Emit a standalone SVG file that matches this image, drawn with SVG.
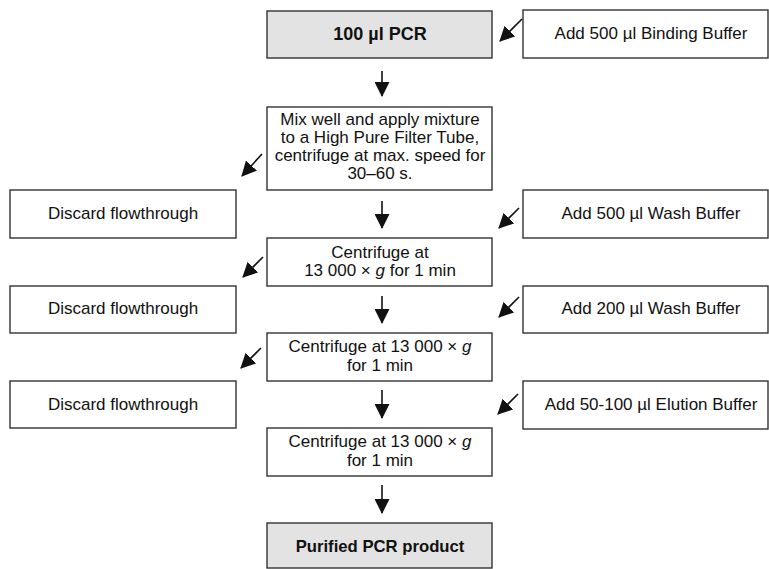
<svg xmlns="http://www.w3.org/2000/svg" width="769" height="569" viewBox="0 0 769 569">
<style>
.box{fill:#fff;stroke:#333;stroke-width:1.4}
.grey{fill:#e3e3e3;stroke:#333;stroke-width:1.4}
text{font-family:"Liberation Sans",Arial,sans-serif;font-size:17px;fill:#111;text-anchor:middle}
.b{font-weight:bold}
.i{font-style:italic}
.c line{stroke:#111;stroke-width:1.6;marker-end:url(#ah)}
</style>
<defs>
<marker id="ah" markerWidth="15" markerHeight="15" refX="14" refY="7.5" orient="auto" markerUnits="userSpaceOnUse" viewBox="0 0 15 15">
<path d="M0,0 L15,7.5 L0,15 z" fill="#111"/>
</marker>
</defs>
<rect width="769" height="569" fill="#fff"/>
<g id="pcr"><rect class="grey" x="267" y="11" width="225" height="47"/><text class="b" x="380" y="40" style="font-size:18px">100 µl PCR</text></g>
<g id="binding"><rect class="box" x="523" y="10" width="245" height="48"/><text x="651" y="39">Add 500 µl Binding Buffer</text></g>
<g id="mix"><rect class="box" x="267" y="107" width="225" height="83"/>
<text x="380" y="125">Mix well and apply mixture</text>
<text x="380" y="143">to a High Pure Filter Tube,</text>
<text x="380" y="161">centrifuge at max. speed for</text>
<text x="380" y="179">30–60 s.</text></g>
<g id="discard1"><rect class="box" x="10" y="190" width="226" height="48"/><text x="123" y="219">Discard flowthrough</text></g>
<g id="wash500"><rect class="box" x="523" y="190" width="245" height="48"/><text x="651" y="219">Add 500 µl Wash Buffer</text></g>
<g id="cent1"><rect class="box" x="267" y="238" width="225" height="48"/>
<text x="380" y="258">Centrifuge at</text>
<text x="380" y="276">13 000 × <tspan class="i">g</tspan> for 1 min</text></g>
<g id="discard2"><rect class="box" x="10" y="286" width="226" height="47"/><text x="123" y="314">Discard flowthrough</text></g>
<g id="wash200"><rect class="box" x="523" y="286" width="245" height="47"/><text x="651" y="314">Add 200 µl Wash Buffer</text></g>
<g id="cent2"><rect class="box" x="267" y="333" width="225" height="48"/>
<text x="380" y="352">Centrifuge at 13 000 × <tspan class="i">g</tspan></text>
<text x="380" y="371">for 1 min</text></g>
<g id="discard3"><rect class="box" x="10" y="381" width="226" height="47"/><text x="123" y="410">Discard flowthrough</text></g>
<g id="elution"><rect class="box" x="523" y="381" width="245" height="48"/><text x="651" y="410">Add 50-100 µl Elution Buffer</text></g>
<g id="cent3"><rect class="box" x="267" y="428" width="225" height="48"/>
<text x="380" y="447">Centrifuge at 13 000 × <tspan class="i">g</tspan></text>
<text x="380" y="466">for 1 min</text></g>
<g id="purified"><rect class="grey" x="267" y="523" width="225" height="45"/><text class="b" x="380" y="552" style="font-size:16.7px">Purified PCR product</text></g>
<g id="connectors" class="c">
<line x1="382" y1="71" x2="382" y2="96"/>
<line x1="382" y1="201" x2="382" y2="228"/>
<line x1="382" y1="296" x2="382" y2="323"/>
<line x1="382" y1="390" x2="382" y2="418"/>
<line x1="382" y1="485" x2="382" y2="513"/>
<line x1="522" y1="19" x2="500" y2="41"/>
<line x1="519" y1="208" x2="499" y2="228"/>
<line x1="519" y1="297" x2="499" y2="317"/>
<line x1="518" y1="394" x2="498" y2="414"/>
<line x1="262" y1="154" x2="242" y2="176"/>
<line x1="263" y1="257" x2="243" y2="277"/>
<line x1="261" y1="348" x2="241" y2="368"/>
</g>
</svg>
